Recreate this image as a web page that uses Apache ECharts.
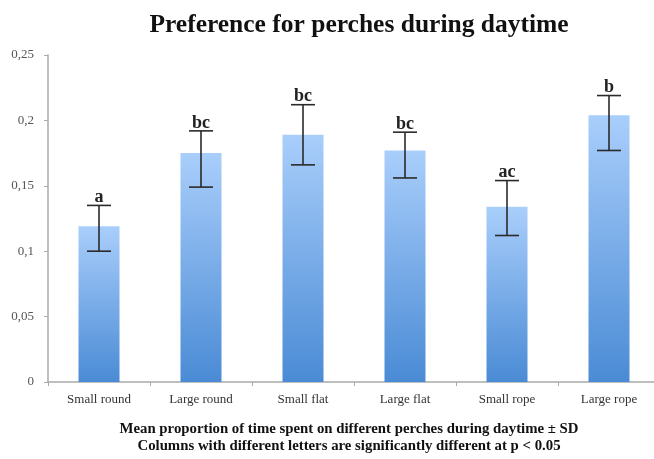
<!DOCTYPE html>
<html>
<head>
<meta charset="utf-8">
<script src="https://cdn.jsdelivr.net/npm/echarts@6/dist/echarts.min.js"></script>
<style>
html,body{margin:0;padding:0;background:#fff;overflow:hidden;}
#chart{width:660px;height:459px;}
</style>
</head>
<body>
<div id="chart"></div>
<script>
var categories = ['Small round', 'Large round', 'Small flat', 'Large flat', 'Small rope', 'Large rope'];
var means = [0.119, 0.175, 0.189, 0.177, 0.134, 0.204];
var errLow = [0.100, 0.149, 0.166, 0.156, 0.112, 0.177];
var errHigh = [0.135, 0.192, 0.212, 0.191, 0.154, 0.219];
var letters = ['a', 'bc', 'bc', 'bc', 'ac', 'b'];
var yTicks = [0, 0.05, 0.1, 0.15, 0.2, 0.25];

var serif = '"Liberation Serif", "DejaVu Serif", serif';
var chart = echarts.init(document.getElementById('chart'), null, {renderer: 'canvas'});

var errData = categories.map(function (c, i) { return [i, errLow[i], errHigh[i], letters[i]]; });

chart.setOption({
  animation: false,
  backgroundColor: '#fff',
  title: [{
    text: 'Preference for perches during daytime',
    left: 354, top: 7, textAlign: 'center',
    textStyle: {fontFamily: serif, fontWeight: 'bold', fontSize: 25.5, color: '#111'}
  }, {
    text: 'Mean proportion of time spent on different perches during daytime \u00b1 SD\nColumns with different letters are significantly different at p < 0.05',
    left: 344, top: 416, textAlign: 'center',
    textStyle: {fontFamily: serif, fontWeight: 'bold', fontSize: 14.8, lineHeight: 17, color: '#111'}
  }],
  grid: {left: 48, right: 0, top: 55, bottom: 77, containLabel: false},
  xAxis: {
    type: 'category',
    data: categories,
    axisLine: {lineStyle: {color: '#aaa', width: 1.5}},
    axisTick: {show: true, alignWithLabel: false, length: 4, lineStyle: {color: '#aaa'}},
    axisLabel: {fontFamily: serif, fontSize: 13, color: '#333', margin: 11},
    splitLine: {show: false}
  },
  yAxis: {
    type: 'value',
    min: 0, max: 0.25, interval: 0.05,
    axisLine: {show: true, lineStyle: {color: '#aaa', width: 1.5}},
    axisTick: {show: true, length: 4, lineStyle: {color: '#aaa'}},
    splitLine: {show: false},
    axisLabel: {
      fontFamily: serif, fontSize: 13, color: '#555', margin: 14,
      formatter: function (v) {
        var idx = yTicks.findIndex(function (t) { return Math.abs(t - v) < 1e-9; });
        var t = idx >= 0 ? yTicks[idx] : v;
        return String(+t.toFixed(2)).replace('.', ',');
      }
    }
  },
  series: [{
    type: 'bar',
    data: means,
    barWidth: 41,
    itemStyle: {
      color: new echarts.graphic.LinearGradient(0, 0, 0, 1, [
        {offset: 0, color: '#a9cefb'},
        {offset: 1, color: '#4a8bd5'}
      ])
    }
  }, {
    type: 'custom',
    data: errData,
    z: 10,
    renderItem: function (params, api) {
      var x = api.value(0);
      var lo = api.coord([x, api.value(1)]);
      var hi = api.coord([x, api.value(2)]);
      var hw = 12;
      var style = {stroke: '#2a2a2a', lineWidth: 1.6};
      return {
        type: 'group',
        children: [
          {type: 'line', shape: {x1: lo[0], y1: lo[1], x2: hi[0], y2: hi[1]}, style: style},
          {type: 'line', shape: {x1: lo[0] - hw, y1: lo[1], x2: lo[0] + hw, y2: lo[1]}, style: style},
          {type: 'line', shape: {x1: hi[0] - hw, y1: hi[1], x2: hi[0] + hw, y2: hi[1]}, style: style},
          {type: 'text', style: {
            x: hi[0], y: hi[1] + 1, text: api.value(3),
            textAlign: 'center', textVerticalAlign: 'bottom',
            font: 'bold 18px ' + serif, fill: '#222'
          }}
        ]
      };
    }
  }]
});
</script>
</body>
</html>
